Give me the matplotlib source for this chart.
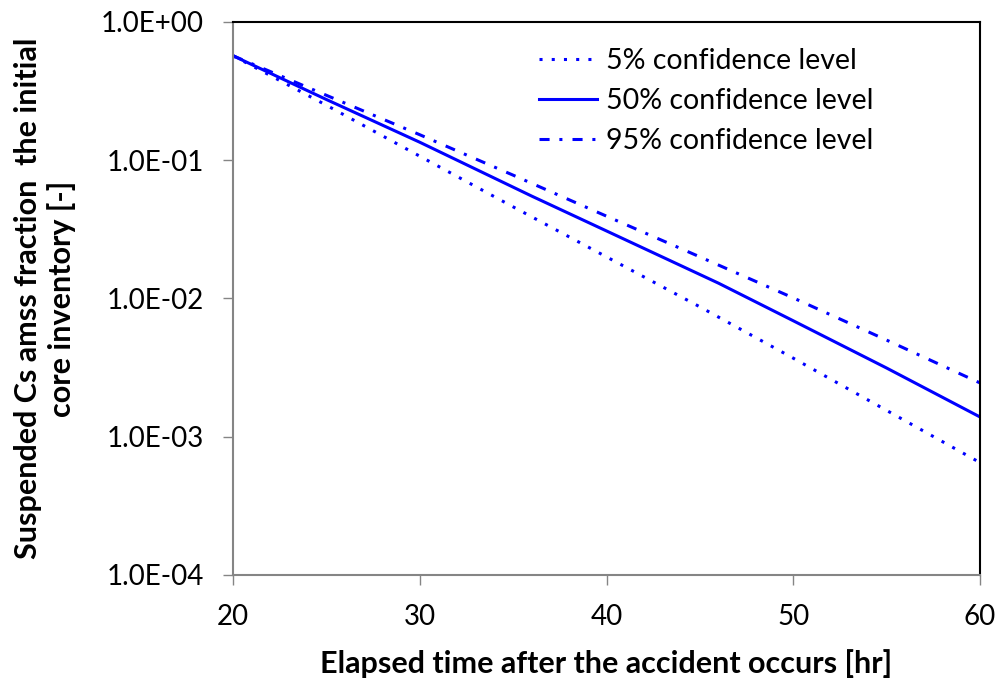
import matplotlib
matplotlib.use("Agg")
import matplotlib.pyplot as plt
from matplotlib.ticker import FixedLocator, FixedFormatter

plt.rcParams['font.family'] = ['Lato', 'DejaVu Sans']

# Data
t_5 = [20, 25, 30, 35, 40, 45, 50, 55, 60]
y_5 = [0.57, 0.25, 0.107, 0.046, 0.020, 0.0087, 0.0037, 0.00155, 0.00065]

t_50 = [20, 25, 30, 36, 40, 46, 50, 55, 60]
y_50 = [0.57, 0.275, 0.135, 0.055, 0.0308, 0.0129, 0.0069, 0.00314, 0.00139]

t_95 = [20, 25, 30, 35, 40, 45, 50, 55, 60]
y_95 = [0.57, 0.295, 0.153, 0.078, 0.0394, 0.0200, 0.0101, 0.0050, 0.00245]

labels = ["5% confidence level", "50% confidence level", "95% confidence level"]
x_ticks = [20, 30, 40, 50, 60]
y_ticks = [1e-4, 1e-3, 1e-2, 1e-1, 1e0]
y_tick_labels = ["1.0E-04", "1.0E-03", "1.0E-02", "1.0E-01", "1.0E+00"]

fig = plt.figure(figsize=(10, 6.79), dpi=100)
ax = fig.add_axes([0.233, 0.1532, 0.747, 0.8144])

blue = "#0000FF"
ax.plot(t_5, y_5, color=blue, lw=2.2, linestyle=(0, (1.0, 3.0)), dash_capstyle='butt', label=labels[0])
ax.plot(t_50, y_50, color=blue, lw=2.2, linestyle='-', label=labels[1])
ax.plot(t_95, y_95, color=blue, lw=2.2, linestyle=(0, (3.3, 3.2, 1.0, 3.3)), dash_capstyle='butt', label=labels[2])

ax.set_yscale('log')
ax.set_xlim(20, 60)
ax.set_ylim(1e-4, 1)
ax.xaxis.set_major_locator(FixedLocator(x_ticks))
ax.set_xticklabels([str(v) for v in x_ticks])
ax.yaxis.set_major_locator(FixedLocator(y_ticks))
ax.yaxis.set_major_formatter(FixedFormatter(y_tick_labels))
ax.yaxis.set_minor_locator(FixedLocator([]))

for s in ['left', 'bottom']:
    ax.spines[s].set_color('#858585')
    ax.spines[s].set_linewidth(1.5)
for s in ['top', 'right']:
    ax.spines[s].set_color('black')
    ax.spines[s].set_linewidth(1.5)

ax.tick_params(axis='both', which='major', direction='out', length=7, width=1,
               color='#858585', labelsize=20, labelcolor='black')
ax.tick_params(axis='y', pad=14)
ax.tick_params(axis='x', pad=14)

ax.set_xlabel("Elapsed time after the accident occurs [hr]", fontsize=22, fontweight='bold', labelpad=14)
ax.set_ylabel("Suspended Cs amss fraction  the initial\ncore inventory [-]", fontsize=22,
              fontweight='bold', labelpad=18, linespacing=1.2)

leg = fig.legend(loc='upper left', bbox_to_anchor=(0.539, 0.930), bbox_transform=fig.transFigure,
                 frameon=False, fontsize=20.5, borderpad=0, borderaxespad=0,
                 handlelength=2.05, handletextpad=0.32, labelspacing=0.50)

fig.savefig("out.png", dpi=100)
